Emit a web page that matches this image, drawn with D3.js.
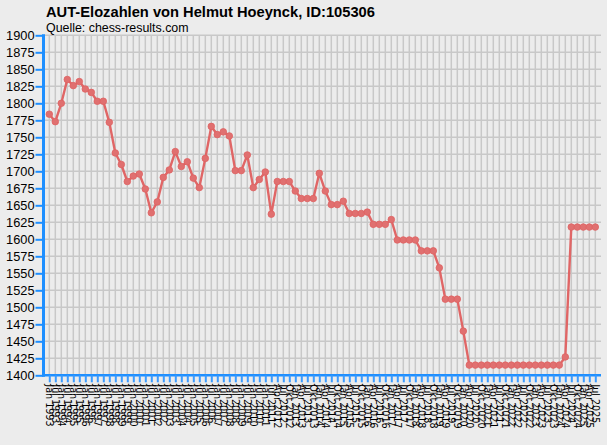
<!DOCTYPE html>
<html>
<head>
<meta charset="utf-8">
<script src="https://cdn.jsdelivr.net/npm/d3@7"></script>
<style>
  html, body { margin: 0; padding: 0; background: #ECECEC; }
  svg { display: block; }
</style>
</head>
<body>
<script>
// ---- data ----
const titleText = "AUT-Elozahlen von Helmut Hoeynck, ID:105306";
const subtitleText = "Quelle: chess-results.com";

const categories = [
  "Jan 1993","Jul 1993","Jan 1994","Jul 1994","Jan 1995","Jul 1995","Jan 1996","Jul 1996",
  "Jan 1997","Jul 1997","Jan 1998","Jul 1998","Jan 1999","Jul 1999","Jan 2000","Jul 2000",
  "Jan 2001","Jul 2001","Jan 2002","Jul 2002","Jan 2003","Jul 2003","Jan 2004","Jul 2004",
  "Jan 2005","Jul 2005","Jan 2006","Jul 2006","Jan 2007","Jul 2007","Jan 2008","Jul 2008",
  "Jan 2009","Jul 2009","Jan 2010","Jul 2010","Jan 2011","Jul 2011",
  "Apr 2012","Jul 2012","Okt 2012",
  "Jan 2013","Apr 2013","Jul 2013","Okt 2013",
  "Jan 2014","Apr 2014","Jul 2014","Okt 2014",
  "Jan 2015","Apr 2015","Jul 2015","Okt 2015",
  "Jan 2016","Apr 2016","Jul 2016","Okt 2016",
  "Jan 2017","Apr 2017","Jul 2017","Okt 2017",
  "Jan 2018","Apr 2018","Jul 2018","Okt 2018",
  "Jan 2019","Apr 2019","Jul 2019","Okt 2019",
  "Jan 2020","Apr 2020","Jul 2020","Okt 2020",
  "Jan 2021","Apr 2021","Jul 2021","Okt 2021",
  "Jan 2022","Apr 2022","Jul 2022","Okt 2022",
  "Jan 2023","Apr 2023","Jul 2023","Okt 2023",
  "Jan 2024","Apr 2024","Jul 2024","Okt 2024",
  "Jan 2025","Apr 2025","Jul 2025"
];

const elo = [
  1784,1773,1800,1835,1826,1832,1821,1816,1803,1803,
  1772,1727,1710,1685,1693,1696,1674,1639,1655,1691,
  1702,1729,1707,1714,1690,1676,1719,1766,1754,1758,
  1752,1701,1701,1724,1676,1688,1699,1637,1685,1685,
  1685,1671,1660,1660,1660,1697,1671,1651,1651,1656,
  1638,1638,1638,1640,1622,1622,1622,1629,1599,1599,
  1599,1599,1583,1583,1583,1558,1512,1512,1512,1465,
  1415,1415,1415,1415,1415,1415,1415,1415,1415,1415,
  1415,1415,1415,1415,1415,1415,1427,1618,1618,1618,
  1618,1618
];

const yTicks = [1400,1425,1450,1475,1500,1525,1550,1575,1600,1625,1650,1675,
                1700,1725,1750,1775,1800,1825,1850,1875,1900];

// ---- layout ----
const W = 607, H = 445;
const plot = { left: 46.3, right: 598.3, top: 35.3, bottom: 375.3 };
const axisBlue = "#1E8FFF";
const lineRed = "#E06666";

const svg = d3.select("body").append("svg")
  .attr("width", W).attr("height", H)
  .style("background", "#ECECEC");

const x = d3.scalePoint().domain(categories).range([plot.left, plot.right]).padding(0.5);
const y = d3.scaleLinear().domain([1400, 1900]).range([plot.bottom, plot.top]);

// grid
const grid = svg.append("g").attr("stroke", "#C8C8C8").attr("stroke-width", 1.5);
grid.selectAll("line.v").data(categories).join("line")
  .attr("x1", d => x(d)).attr("x2", d => x(d))
  .attr("y1", plot.top).attr("y2", plot.bottom);
grid.selectAll("line.h").data(yTicks).join("line")
  .attr("x1", 44).attr("x2", 601)
  .attr("y1", d => y(d)).attr("y2", d => y(d));

// title
svg.append("text").attr("x", 46).attr("y", 17)
  .attr("font-family", "Liberation Sans, Arial, sans-serif")
  .attr("font-weight", "bold").attr("font-size", 14.7).attr("fill", "#000")
  .text(titleText);
svg.append("text").attr("x", 46).attr("y", 31.5)
  .attr("font-family", "Liberation Sans, Arial, sans-serif")
  .attr("font-size", 12.4).attr("fill", "#000")
  .text(subtitleText);

// y axis
const yAxis = svg.append("g").attr("transform", "translate(43.5,0)")
  .call(d3.axisLeft(y).tickValues(yTicks).tickFormat(d3.format("d"))
    .tickSize(8).tickSizeOuter(0).tickPadding(1));
yAxis.select(".domain").attr("stroke", axisBlue).attr("stroke-width", 3)
  .attr("d", `M0,${plot.top - 1}V${plot.bottom + 1.5}`);
yAxis.selectAll(".tick line").attr("stroke", axisBlue).attr("stroke-width", 2);
yAxis.selectAll(".tick text")
  .attr("font-family", "Liberation Sans, Arial, sans-serif")
  .attr("font-size", 12.8).attr("fill", "#000");

// x axis
const xAxis = svg.append("g").attr("transform", `translate(0,${plot.bottom})`)
  .call(d3.axisBottom(x).tickSize(7).tickSizeOuter(0));
xAxis.select(".domain").attr("stroke", axisBlue).attr("stroke-width", 2.5)
  .attr("d", `M42,0H601`);
xAxis.selectAll(".tick line").attr("stroke", "#3A9BFF").attr("stroke-width", 2);
xAxis.selectAll(".tick text")
  .attr("font-family", "DejaVu Sans, sans-serif")
  .attr("font-size", 9.6).attr("fill", "#000")
  .attr("transform", "rotate(90)")
  .attr("x", 9).attr("y", 0).attr("dy", "0.36em")
  .style("text-anchor", "start");

// line + points
const line = d3.line().x((d, i) => x(categories[i])).y(d => y(d));
svg.append("path").datum(elo)
  .attr("fill", "none").attr("stroke", lineRed).attr("stroke-width", 2.4)
  .attr("stroke-linejoin", "round")
  .attr("d", line);
svg.append("g").selectAll("circle").data(elo).join("circle")
  .attr("cx", (d, i) => x(categories[i]))
  .attr("cy", d => y(d))
  .attr("r", 3.3)
  .attr("fill", "#E07070")
  .attr("stroke", "#E06262").attr("stroke-width", 0.8);
</script>
</body>
</html>
